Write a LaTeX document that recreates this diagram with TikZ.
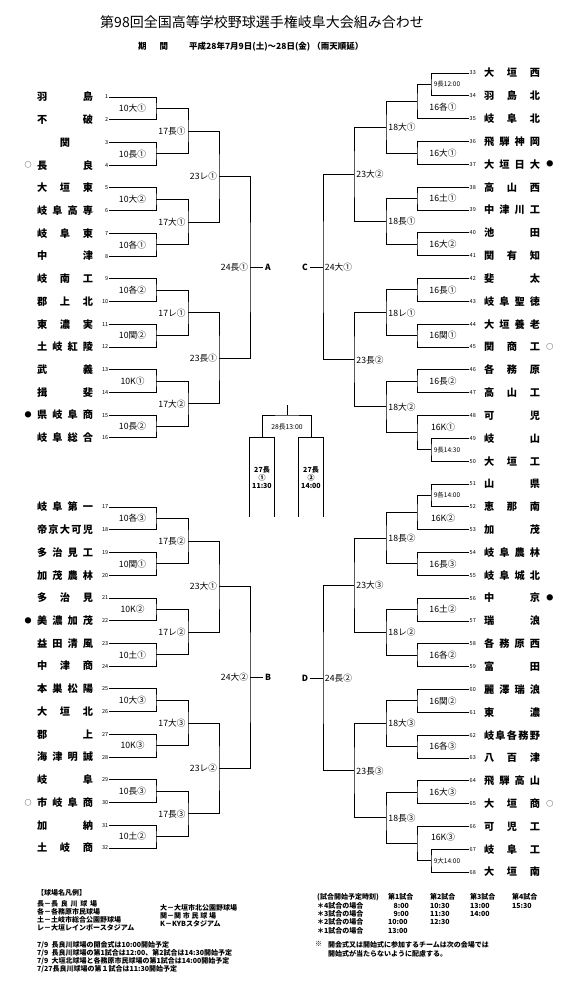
\documentclass[tikz,border=0pt]{standalone}
\usepackage{fontspec}
\setmainfont{Noto Sans CJK JP}
\usetikzlibrary{calc, positioning}

\makeatletter
% spread the characters of a name over a fixed width
\newcommand\spr[2][56pt]{\makebox[#1][s]{\expandafter\spr@#2\relax}}
\def\spr@#1#2{#1\ifx\relax#2\else\hfill\expandafter\spr@\expandafter#2\fi}
\makeatother

\begin{document}
\begin{tikzpicture}[
    x = 1pt, y = -1pt,
    wire/.style    = {line width = 0.8pt},
    team/.style    = {font = \bfseries\fontsize{10.2}{12}\selectfont, inner sep = 0pt},
    num/.style     = {font = \fontsize{5.5}{6}\selectfont, inner sep = 0.5pt},
    lbl/.style     = {font = \fontsize{8.7}{9}\selectfont, inner sep = 0pt},
    pre/.style     = {font = \fontsize{6.5}{7}\selectfont, inner sep = 0pt},
    side/.style    = {font = \bfseries\fontsize{8.5}{9}\selectfont, inner sep = 1.5pt},
    semi/.style    = {
        font           = \bfseries\fontsize{7}{8}\selectfont,
        align          = center,
        inner sep      = 0pt,
        minimum width  = 24pt,
        minimum height = 79pt
    },
    dotmark/.style = {font = \fontsize{7}{7}\selectfont, inner sep = 0pt},
    foot/.style    = {
        font      = \bfseries\fontsize{7}{8}\selectfont,
        inner sep = 0pt,
        anchor    = north west,
        align     = left
    }
]
\useasboundingbox (0,0) rectangle (577,986);

% title
\node[font = \fontsize{14}{16}\selectfont] (title) at (262,22)
    {第98回全国高等学校野球選手権岐阜大会組み合わせ};
\node[font = \bfseries\fontsize{8.5}{10}\selectfont, anchor = west, inner sep = 0pt] (period) at (138,47)
    {期\hspace{13pt}間\hspace{21pt}平成28年7月9日(土)～28日(金)\ （雨天順延）};

% left teams
\foreach \nm [count=\i] in {羽島,不破,\hfill 関\hfill,長良,大垣東,岐阜高専,岐阜東,中津,
        岐南工,郡上北,東濃実,土岐紅陵,武義,揖斐,県岐阜商,岐阜総合,
        岐阜第一,帝京大可児,多治見工,加茂農林,多治見,美濃加茂,益田清風,中津商,
        本巣松陽,大垣北,郡上,海津明誠,岐阜,市岐阜商,加納,土岐商} {
    \pgfmathsetmacro\ty{\i<17 ? 97+(\i-1)*22.72 : 507+(\i-17)*22.73}
    \node[num, anchor = east] (n\i) at (109,\ty) {\i};
    \node[team] (t\i) at (65,\ty) {\spr{\nm}};
    \coordinate (e\i) at (n\i.east);
}

% right teams
\foreach \nm [count=\i from 33] in {大垣西,羽島北,岐阜北,飛騨神岡,大垣日大,高山西,中津川工,池田,関有知,
        斐太,岐阜聖徳,大垣養老,関商工,各務原,高山工,可児,岐山,大垣工,
        山県,恵那南,加茂,岐阜農林,岐阜城北,中京,瑞浪,各務原西,富田,
        麗澤瑞浪,東濃,岐阜各務野,八百津,飛騨高山,大垣商,可児工,岐阜工,大垣南} {
    \pgfmathsetmacro\ty{73+(\i-33)*22.83}
    \node[num, anchor = west] (n\i) at (469,\ty) {\i};
    \node[team] (t\i) at (512,\ty) {\spr{\nm}};
    \coordinate (e\i) at (n\i.west);
}

% marks
\foreach \i/\s in {4/○, 15/●, 22/●, 30/○}
    \node[dotmark, left = 5pt of t\i] (o\i) {\s};
\foreach \i/\s in {37/●, 45/○, 56/●, 65/○}
    \node[dotmark, right = 6pt of t\i] (o\i) {\s};

% round columns
\coordinate (xL1) at (156,0);
\coordinate (xL2) at (188,0);
\coordinate (xL3) at (219,0);
\coordinate (xL4) at (250,0);
\coordinate (xP)  at (431,0);
\coordinate (xR1) at (417,0);
\coordinate (xR2) at (386,0);
\coordinate (xR3) at (354,0);
\coordinate (xR4) at (323,0);

% left bracket
\foreach \k/\lab in {1/10大①, 2/10長①, 3/10大②, 4/10各①, 5/10各②, 6/10関②, 7/10K①, 8/10長②,
        9/10各③, 10/10関①, 11/10K②, 12/10土①, 13/10大③, 14/10K③, 15/10長③, 16/10土②} {
    \pgfmathtruncatemacro\a{2*\k-1}
    \pgfmathtruncatemacro\b{2*\k}
    \coordinate (m) at ($(e\a)!.5!(e\b)$);
    \coordinate (L1-\k) at (m -| xL1);
    \draw[wire] (e\a) -| (L1-\k) |- (e\b);
    \node[lbl] (l1-\k) at ($(L1-\k)+(-23.5,0)$) {\lab};
}
\foreach \k/\lab in {1/17長①, 2/17大①, 3/17レ①, 4/17大②, 5/17長②, 6/17レ②, 7/17大③, 8/17長③} {
    \pgfmathtruncatemacro\a{2*\k-1}
    \pgfmathtruncatemacro\b{2*\k}
    \coordinate (m) at ($(L1-\a)!.5!(L1-\b)$);
    \coordinate (L2-\k) at (m -| xL2);
    \draw[wire] (L1-\a) -| (L2-\k) |- (L1-\b);
    \node[lbl] (l2-\k) at ($(L2-\k)+(-16,0)$) {\lab};
}
\foreach \k/\lab in {1/23レ①, 2/23長①, 3/23大①, 4/23レ②} {
    \pgfmathtruncatemacro\a{2*\k-1}
    \pgfmathtruncatemacro\b{2*\k}
    \coordinate (m) at ($(L2-\a)!.5!(L2-\b)$);
    \coordinate (L3-\k) at (m -| xL3);
    \draw[wire] (L2-\a) -| (L3-\k) |- (L2-\b);
    \node[lbl] (l3-\k) at ($(L3-\k)+(-15.5,0)$) {\lab};
}
\foreach \k/\lab/\side in {1/24長①/A, 2/24大②/B} {
    \pgfmathtruncatemacro\a{2*\k-1}
    \pgfmathtruncatemacro\b{2*\k}
    \coordinate (m) at ($(L3-\a)!.5!(L3-\b)$);
    \coordinate (L4-\k) at (m -| xL4);
    \draw[wire] (L3-\a) -| (L4-\k) |- (L3-\b);
    \node[lbl] (l4-\k) at ($(L4-\k)+(-15.5,0)$) {\lab};
    \node[side] (\side) at ($(L4-\k)+(18,0)$) {\side};
    \draw[wire] (L4-\k) -- (\side);
}

% right bracket
\foreach \k/\a/\b/\lab in {1/33/34/9長12:00, 2/49/50/9長14:30, 3/51/52/9各14:00, 4/67/68/9大14:00} {
    \coordinate (m) at ($(e\a)!.5!(e\b)$);
    \coordinate (P\k) at (m -| xP);
    \draw[wire] (e\a) -| (P\k) |- (e\b);
    \node[pre] (p\k) at ($(P\k)+(16,0)$) {\lab};
}
\foreach \k/\a/\b/\lab/\dy in {1/P1/e35/16各①/6, 2/e36/e37/16大①/0, 3/e38/e39/16土①/0,
        4/e40/e41/16大②/0, 5/e42/e43/16長①/0, 6/e44/e45/16関①/0, 7/e46/e47/16長②/0,
        8/e48/P2/16K①/-5, 9/P3/e53/16K②/6, 10/e54/e55/16長③/0, 11/e56/e57/16土②/0,
        12/e58/e59/16各②/0, 13/e60/e61/16関②/0, 14/e62/e63/16各③/0, 15/e64/e65/16大③/0,
        16/e66/P4/16K③/-6} {
    \coordinate (m) at ($(\a)!.5!(\b)$);
    \coordinate (R1-\k) at (m -| xR1);
    \draw[wire] (\a) -| (R1-\k) |- (\b);
    \node[lbl] (r1-\k) at ($(R1-\k)+(26,\dy)$) {\lab};
}
\foreach \k/\lab in {1/18大①, 2/18長①, 3/18レ①, 4/18大②, 5/18長②, 6/18レ②, 7/18大③, 8/18長③} {
    \pgfmathtruncatemacro\a{2*\k-1}
    \pgfmathtruncatemacro\b{2*\k}
    \coordinate (m) at ($(R1-\a)!.5!(R1-\b)$);
    \coordinate (R2-\k) at (m -| xR2);
    \draw[wire] (R1-\a) -| (R2-\k) |- (R1-\b);
    \node[lbl] (r2-\k) at ($(R2-\k)+(16,0)$) {\lab};
}
\foreach \k/\lab in {1/23大②, 2/23長②, 3/23大③, 4/23長③} {
    \pgfmathtruncatemacro\a{2*\k-1}
    \pgfmathtruncatemacro\b{2*\k}
    \coordinate (m) at ($(R2-\a)!.5!(R2-\b)$);
    \coordinate (R3-\k) at (m -| xR3);
    \draw[wire] (R2-\a) -| (R3-\k) |- (R2-\b);
    \node[lbl] (r3-\k) at ($(R3-\k)+(16,0)$) {\lab};
}
\foreach \k/\lab/\side in {1/24大①/C, 2/24長②/D} {
    \pgfmathtruncatemacro\a{2*\k-1}
    \pgfmathtruncatemacro\b{2*\k}
    \coordinate (m) at ($(R3-\a)!.5!(R3-\b)$);
    \coordinate (R4-\k) at (m -| xR4);
    \draw[wire] (R3-\a) -| (R4-\k) |- (R3-\b);
    \node[lbl] (r4-\k) at ($(R4-\k)+(15.5,0)$) {\lab};
    \node[side] (\side) at ($(R4-\k)+(-18,0)$) {\side};
    \draw[wire] (\side) -- (R4-\k);
}

% semi-finals and final
\node[semi] (SL) at (262,477.5) {27長\\①\\11:30};
\node[semi] (SR) at (311,477.5) {27長\\②\\14:00};
\draw[wire] (SL.south west) |- (SL.north east) -- (SL.south east);
\draw[wire] (SR.south west) |- (SR.north east) -- (SR.south east);
\coordinate (W) at (287,415);
\coordinate (champ) at (287,405);
\draw[wire] (SL.north) |- (W) -| (SR.north);
\draw[wire] (W) -- (champ);
\node[pre, font = \fontsize{6.8}{7}\selectfont] (fin) at (287,427) {28長13:00};

% footer
\node[foot] (legend) at (37,889.5) {【球場名凡例】};
\node[foot] (legendA) at (37,900.5)
    {長－\spr[46pt]{長良川球場}\\各－各務原市民球場\\土－土岐市総合公園野球場\\レ－大垣レインボースタジアム};
\node[foot] (legendB) at (160,904.5)
    {大－大垣市北公園野球場\\関－\spr[42pt]{関市民球場}\\K－KYBスタジアム};
\node[foot] (notes) at (37,941.5)
    {7/9\ \ 長良川球場の開会式は10:00開始予定\\
     7/9\ \ 長良川球場の第1試合は12:00、第2試合は14:30開始予定\\
     7/9\ \ 大垣北球場と各務原市民球場の第1試合は14:00開始予定\\
     7/27長良川球場の第１試合は11:30開始予定};
\node[foot] (times) at (317,893.5) {%
    \begin{tabular}{@{}p{71pt}@{}p{42pt}@{}p{40pt}@{}p{42pt}@{}l@{}}
    (試合開始予定時刻) & 第1試合 & 第2試合 & 第3試合 & 第4試合\\
    ＊4試合の場合 & \hphantom{1}\,8:00 & 10:30 & 13:00 & 15:30\\
    ＊3試合の場合 & \hphantom{1}\,9:00 & 11:30 & 14:00 & \\
    ＊2試合の場合 & 10:00 & 12:30 & & \\
    ＊1試合の場合 & 13:00 & & &
    \end{tabular}};
\node[foot] (kome) at (315,941.5) {※};
\node[foot, font = \bfseries\fontsize{7}{9}\selectfont] (kometext) at (328,941.5)
    {開会式又は開始式に参加するチームは次の会場では\\開始式が当たらないように配慮する。};
\end{tikzpicture}
\end{document}
